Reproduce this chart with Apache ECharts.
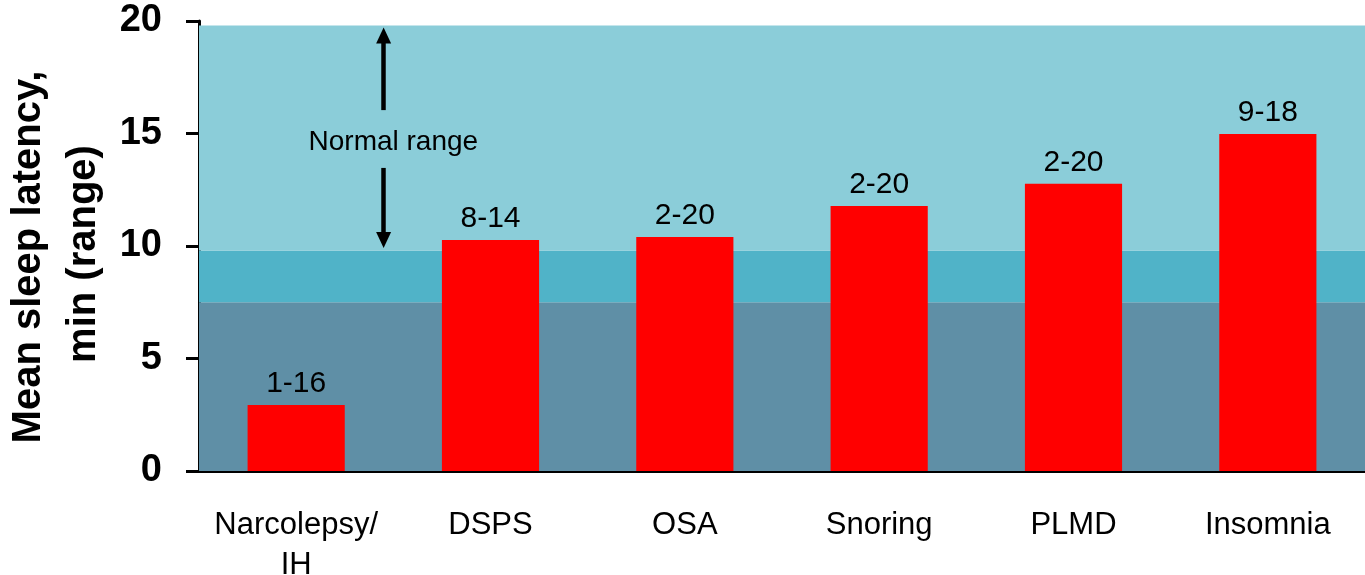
<!DOCTYPE html>
<html>
<head>
<meta charset="utf-8">
<script src="https://cdn.jsdelivr.net/npm/echarts@6/dist/echarts.min.js"></script>
<style>
html,body{margin:0;padding:0;background:#fff;}
#chart{width:1365px;height:575px;}
</style>
</head>
<body>
<div id="chart"></div>
<script>
// ---- data ----
var categories = ['Narcolepsy/\nIH', 'DSPS', 'OSA', 'Snoring', 'PLMD', 'Insomnia'];
var meanLatency = [2.93, 10.27, 10.4, 11.78, 12.77, 14.98];
var rangeLabels = ['1-16', '8-14', '2-20', '2-20', '2-20', '9-18'];
var yTicks = [0, 5, 10, 15, 20];
var bandEdges = [0, 7.5, 9.8, 19.8];
var bandColors = ['#5F8FA6', '#50B3C8', '#8BCDD9'];
var normalRangeText = 'Normal range';
var normalTextPos = [1.0, 14.6];          // position on hidden 0..6 x scale
var upArrow = [[0.95, 16.04], [0.95, 19.36]];
var downArrow = [[0.95, 13.47], [0.95, 10.27]];
var yTitleLines = ['Mean sleep latency,', 'min (range)'];

var FONT = "'Liberation Sans', Arial, Helvetica, sans-serif";

var bandAreas = [];
for (var i = 0; i < bandColors.length; i++) {
  bandAreas.push([
    { yAxis: bandEdges[i], itemStyle: { color: bandColors[i] } },
    { yAxis: bandEdges[i + 1] }
  ]);
}

var chart = echarts.init(document.getElementById('chart'), null, { renderer: 'canvas' });
chart.setOption({
  animation: false,
  backgroundColor: '#ffffff',
  grid: { left: 199, right: 0, top: 21, bottom: 104, containLabel: false, outerBoundsMode: 'none' },
  xAxis: [{
    type: 'category',
    data: categories,
    axisLine: { show: true, lineStyle: { color: '#000', width: 3 } },
    axisTick: { show: false },
    axisLabel: {
      color: '#000', fontFamily: FONT, fontSize: 31, lineHeight: 40, margin: 34, interval: 0
    },
    splitLine: { show: false }
  }, {
    type: 'value', min: 0, max: 6, show: false
  }],
  yAxis: {
    type: 'value', min: yTicks[0], max: yTicks[yTicks.length - 1], interval: 5,
    axisLine: { show: true, lineStyle: { color: '#000', width: 3 } },
    axisTick: { show: true, inside: false, length: 13, lineStyle: { color: '#000', width: 3 } },
    axisLabel: { color: '#000', fontFamily: FONT, fontSize: 38, fontWeight: 'bold', margin: 37, padding: [7, 0, 0, 0] },
    splitLine: { show: false }
  },
  graphic: [
    { type: 'text', x: 29, y: 257, rotation: Math.PI / 2, z: 100,
      style: { text: yTitleLines[0], fill: '#000', font: 'bold 40px ' + FONT, textAlign: 'center', textVerticalAlign: 'middle' } },
    { type: 'text', x: 84, y: 254, rotation: Math.PI / 2, z: 100,
      style: { text: yTitleLines[1], fill: '#000', font: 'bold 40px ' + FONT, textAlign: 'center', textVerticalAlign: 'middle' } }
  ],
  series: [{
    type: 'bar',
    data: meanLatency,
    barWidth: '50%',
    itemStyle: { color: '#FF0000' },
    label: {
      show: true, position: 'top', distance: 6,
      color: '#000', fontFamily: FONT, fontSize: 30,
      formatter: function (p) { return rangeLabels[p.dataIndex]; }
    },
    markArea: { silent: true, data: bandAreas },
    z: 3
  }, {
    type: 'scatter',
    xAxisIndex: 1,
    yAxisIndex: 0,
    data: [normalTextPos],
    symbolSize: 0,
    silent: true,
    itemStyle: { opacity: 1, color: '#000' },
    label: {
      show: true, position: 'inside', formatter: normalRangeText,
      color: '#000', opacity: 1, textBorderWidth: 0, fontFamily: FONT, fontSize: 28
    },
    markLine: {
      silent: true,
      symbol: ['none', 'triangle'],
      symbolSize: [15, 16],
      label: { show: false },
      lineStyle: { color: '#000', width: 4.5, type: 'solid', opacity: 1 },
      itemStyle: { color: '#000', opacity: 1 },
      data: [
        [{ coord: upArrow[0] }, { coord: upArrow[1] }],
        [{ coord: downArrow[0] }, { coord: downArrow[1] }]
      ]
    },
    z: 5
  }]
});
</script>
</body>
</html>
